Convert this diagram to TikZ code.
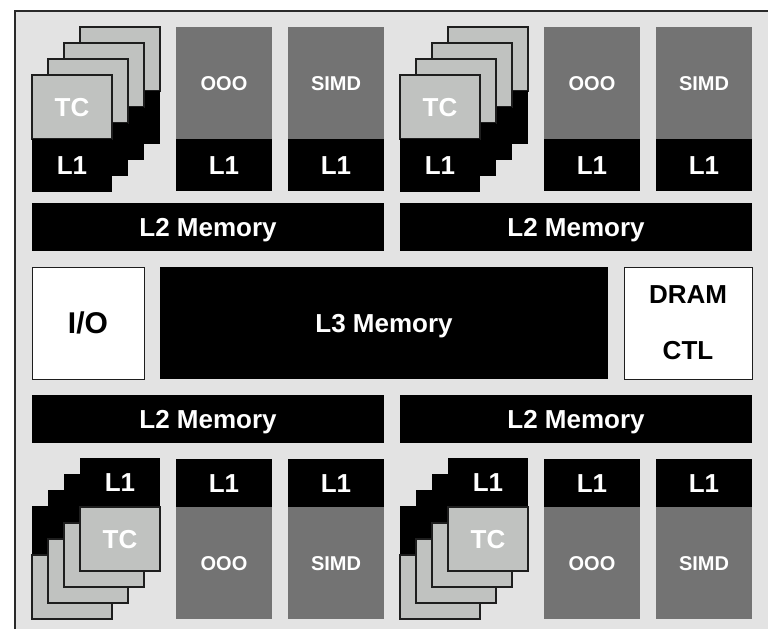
\documentclass[tikz,border=0pt]{standalone}
\usepackage{fontspec}
\setmainfont{Liberation Sans}
\definecolor{bg}{HTML}{E3E3E3}
\definecolor{tcg}{HTML}{C0C2C0}
\definecolor{oog}{HTML}{737373}
\definecolor{edge}{HTML}{1E1E1E}
\definecolor{frame}{HTML}{2A2A2A}
\tikzset{
  base/.style={anchor=north west, inner sep=0pt, outer sep=0pt, text=white, align=center},
  blk/.style={base, font=\bfseries\fontsize{26}{26}\selectfont, text height=18.7pt, text depth=0pt},
  smalltxt/.style={font=\bfseries\fontsize{20}{20}\selectfont, text height=14.4pt},
  tcpart/.style={blk, fill=tcg, draw=edge, line width=1.2pt, minimum width=80pt, minimum height=64pt},
  lonepart/.style={blk, fill=black, minimum width=80pt},
  corepart/.style={blk, fill=oog, smalltxt, minimum width=96pt, minimum height=112pt},
  cachepart/.style={blk, fill=black, minimum width=96pt},
  bar/.style={blk, fill=black, minimum width=352pt, minimum height=48pt},
  whitebox/.style={base, fill=white, draw=edge, line width=1pt, text=black, minimum height=112pt}
}
\begin{document}
\begin{tikzpicture}[x=1pt,y=-1pt]
\useasboundingbox (0,0) rectangle (768,629);
\fill[white] (0,0) rectangle (768,629);
\fill[bg] (15,11) rectangle (768,629);
\draw[frame, line width=2pt] (15,629) -- (15,11) -- (768,11);

% ---------- top groups ----------
\foreach \g/\ox in {tl/0, tr/368}{
  \foreach \i in {3,2,1}{
    \node[tcpart] (\g-tc\i) at (32+\ox+16*\i, 75-16*\i) {};
    \node[lonepart, minimum height=53pt] (\g-l\i) at (32+\ox+16*\i, 139-16*\i) {};
  }
  \node[tcpart] (\g-tc0) at (32+\ox, 75) {TC};
  \node[lonepart, minimum height=53pt] (\g-l0) at (32+\ox, 139) {L1};
  \node[corepart] (\g-ooo) at (176+\ox, 27) {OOO};
  \node[cachepart, minimum height=52pt] (\g-ooo-l1) at (176+\ox, 139) {L1};
  \node[corepart] (\g-simd) at (288+\ox, 27) {SIMD};
  \node[cachepart, minimum height=52pt] (\g-simd-l1) at (288+\ox, 139) {L1};
}

% ---------- L2 bars ----------
\node[bar] (l2a) at (32,203) {L2 Memory};
\node[bar] (l2b) at (400,203) {L2 Memory};
\node[bar] (l2c) at (32,395) {L2 Memory};
\node[bar] (l2d) at (400,395) {L2 Memory};

% ---------- middle row ----------
\node[whitebox, minimum width=112pt, font=\bfseries\fontsize{30}{30}\selectfont, text height=21.5pt, text depth=0pt] (io) at (32,267) {I/O};
\node[blk, fill=black, minimum width=448pt, minimum height=112pt] (l3) at (160,267) {L3 Memory};
\node[whitebox, minimum width=128pt, font=\bfseries\fontsize{26}{56}\selectfont] (dram) at (624,267) {DRAM\\CTL};

% ---------- bottom groups ----------
\foreach \g/\ox in {bl/0, br/368}{
  \foreach \i in {3,2,1}{
    \node[lonepart, minimum height=49pt] (\g-l\i) at (80+\ox-16*\i, 458+16*\i) {};
    \node[tcpart] (\g-tc\i) at (80+\ox-16*\i, 507+16*\i) {};
  }
  \node[lonepart, minimum height=49pt] (\g-l0) at (80+\ox, 458) {L1};
  \node[tcpart] (\g-tc0) at (80+\ox, 507) {TC};
  \node[cachepart, minimum height=48pt] (\g-ooo-l1) at (176+\ox, 459) {L1};
  \node[corepart] (\g-ooo) at (176+\ox, 507) {OOO};
  \node[cachepart, minimum height=48pt] (\g-simd-l1) at (288+\ox, 459) {L1};
  \node[corepart] (\g-simd) at (288+\ox, 507) {SIMD};
}
\end{tikzpicture}
\end{document}
